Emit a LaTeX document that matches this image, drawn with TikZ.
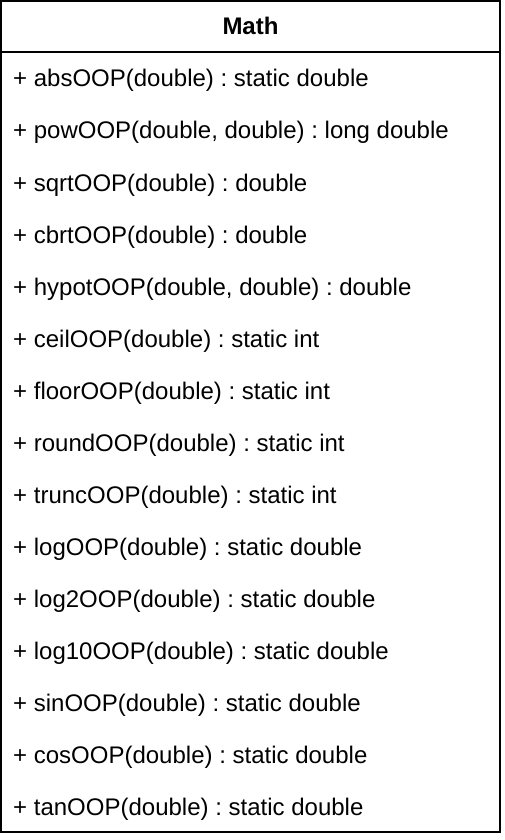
\documentclass[tikz,border=0pt]{standalone}
\usepackage{fontspec}
\setmainfont{Liberation Sans}
\frenchspacing
\begin{document}
\begin{tikzpicture}[x=1pt,y=-1pt,
  frame/.style={draw=black,line width=2pt,fill=white},
  member/.style={anchor=base west,inner sep=0pt,font=\fontsize{24}{28}\selectfont},
  title/.style={anchor=base,inner sep=0pt,font=\fontsize{24}{28}\selectfont\bfseries}]
\useasboundingbox (0,0) rectangle (504,840);
% class box and header separator
\draw[frame] (1,1) rectangle (500,832);
\draw[line width=2pt] (1,52) -- (500,52);
\node[title] (cls) at (250.5,35) {Math};
% operations, one per 52pt row
\foreach \txt [count=\i] in {
  {+ absOOP(double) : static double},
  {+ powOOP(double, double) : long double},
  {+ sqrtOOP(double) : double},
  {+ cbrtOOP(double) : double},
  {+ hypotOOP(double, double) : double},
  {+ ceilOOP(double) : static int},
  {+ floorOOP(double) : static int},
  {+ roundOOP(double) : static int},
  {+ truncOOP(double) : static int},
  {+ logOOP(double) : static double},
  {+ log2OOP(double) : static double},
  {+ log10OOP(double) : static double},
  {+ sinOOP(double) : static double},
  {+ cosOOP(double) : static double},
  {+ tanOOP(double) : static double}}
  \node[member] (op\i) at (13,{35+52*\i}) {\txt};
\end{tikzpicture}
\end{document}
